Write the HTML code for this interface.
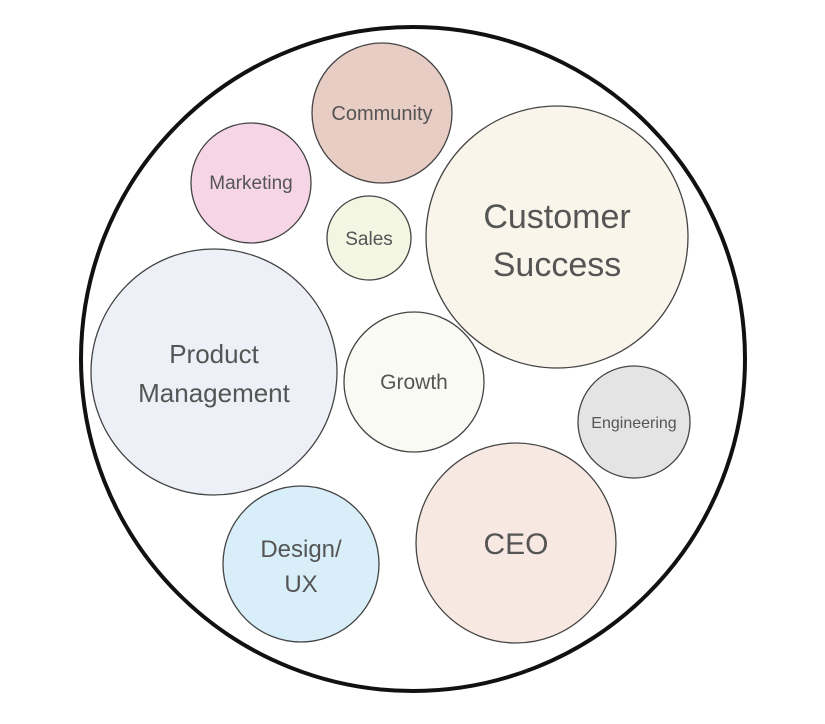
<!DOCTYPE html>
<html><head><meta charset="utf-8"><style>
html,body{margin:0;padding:0;background:#fff;}
svg{display:block;}
text{font-family:"Liberation Sans",sans-serif;fill:#555;text-anchor:middle;}
</style></head><body>
<svg width="825" height="724" viewBox="0 0 825 724">
<circle cx="413" cy="359" r="332" fill="#fff" stroke="#111" stroke-width="4"/>
<g stroke="#444" stroke-width="1.3">
<circle cx="382" cy="113" r="70" fill="#e8cdc4"/>
<circle cx="251" cy="183" r="60" fill="#f6d6e6"/>
<circle cx="369" cy="238" r="42" fill="#f3f6e2"/>
<circle cx="557" cy="237" r="131" fill="#faf5ea"/>
<circle cx="214" cy="372" r="123" fill="#edf1f7"/>
<circle cx="414" cy="382" r="70" fill="#fafaf5"/>
<circle cx="634" cy="422" r="56" fill="#e4e4e4"/>
<circle cx="516" cy="543" r="100" fill="#f8e8e2"/>
<circle cx="301" cy="564" r="78" fill="#d8eef9"/>
</g>
<text x="382" y="120" font-size="20">Community</text>
<text x="251" y="189" font-size="19">Marketing</text>
<text x="369" y="245" font-size="19">Sales</text>
<text x="557" y="228" font-size="34">Customer</text>
<text x="557" y="276" font-size="34">Success</text>
<text x="214" y="363" font-size="26">Product</text>
<text x="214" y="402" font-size="26">Management</text>
<text x="414" y="389" font-size="21">Growth</text>
<text x="634" y="428" font-size="16">Engineering</text>
<text x="516" y="554" font-size="30">CEO</text>
<text x="301" y="557" font-size="24">Design/</text>
<text x="301" y="592" font-size="24">UX</text>
</svg>
</body></html>
